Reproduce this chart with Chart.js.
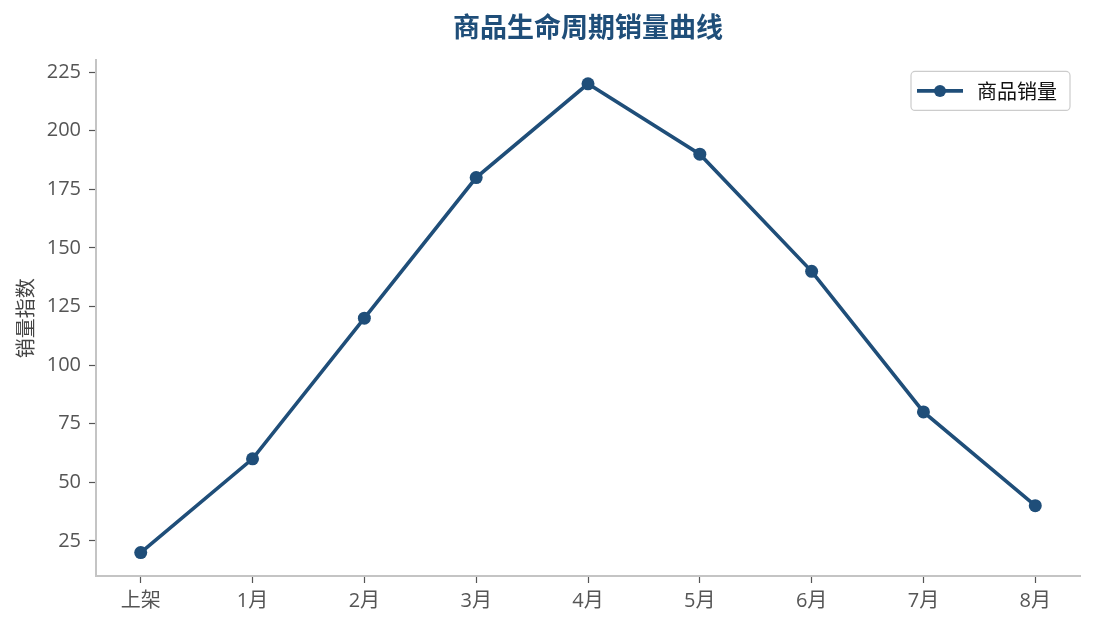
<!DOCTYPE html>
<html>
<head>
<meta charset="utf-8">
<script src="https://cdn.jsdelivr.net/npm/chart.js@4.4.0/dist/chart.umd.min.js"></script>
<style>
  html, body { margin: 0; padding: 0; background: #fff; }
  #wrap { width: 1095px; height: 629px; }
</style>
</head>
<body>
<div id="wrap"><canvas id="lifeChart"></canvas></div>
<script>
// data
const categories = ["上架", "1月", "2月", "3月", "4月", "5月", "6月", "7月", "8月"];
const salesIndex = [20, 60, 120, 180, 220, 190, 140, 80, 40];
const yTicks = [25, 50, 75, 100, 125, 150, 175, 200, 225];

const mainColor = "#1f4e79";
const fontFamily = "'Open Sans', 'Noto Sans CJK SC', sans-serif";
const cjkFamily = "'Noto Sans CJK SC', sans-serif";

// legend box drawn inside the plot, upper right
const boxLegend = {
  id: "boxLegend",
  afterDraw(chart) {
    const ctx = chart.ctx;
    const area = chart.chartArea;
    const w = 159, h = 39;
    const x = area.right - 10 - w;
    const y = area.top + 11;
    ctx.save();
    ctx.fillStyle = "rgba(255,255,255,0.8)";
    ctx.strokeStyle = "#cccccc";
    ctx.lineWidth = 1.2;
    ctx.beginPath();
    ctx.roundRect(x, y, w, h, 4);
    ctx.fill();
    ctx.stroke();
    const cy = y + h / 2;
    ctx.strokeStyle = mainColor;
    ctx.lineWidth = 3.6;
    ctx.beginPath();
    ctx.moveTo(x + 6, cy);
    ctx.lineTo(x + 52, cy);
    ctx.stroke();
    ctx.fillStyle = mainColor;
    ctx.beginPath();
    ctx.arc(x + 29, cy, 6, 0, Math.PI * 2);
    ctx.fill();
    ctx.fillStyle = "#111";
    ctx.font = "20px " + cjkFamily;
    ctx.textBaseline = "middle";
    ctx.fillText(chart.data.datasets[0].label, x + 66, cy + 1);
    ctx.restore();
  }
};

const ctx = document.getElementById("lifeChart");
new Chart(ctx, {
  type: "line",
  data: {
    datasets: [{
      label: "商品销量",
      data: salesIndex.map((v, i) => ({ x: i, y: v })),
      borderColor: mainColor,
      backgroundColor: mainColor,
      borderWidth: 3.6,
      pointRadius: 6.5,
      pointHoverRadius: 6.5,
      pointBackgroundColor: mainColor,
      pointBorderWidth: 0,
      tension: 0
    }]
  },
  options: {
    responsive: true,
    maintainAspectRatio: false,
    animation: false,
    layout: { padding: { left: 10, right: 15, top: 0, bottom: 0 } },
    plugins: {
      legend: { display: false },
      tooltip: { enabled: false },
      title: {
        display: true,
        fullSize: false,
        text: "商品生命周期销量曲线",
        color: mainColor,
        font: { family: cjkFamily, size: 27, weight: "bold" },
        padding: { top: 11, bottom: 17 }
      }
    },
    scales: {
      x: {
        type: "linear",
        min: -0.4,
        max: 8.4,
        afterBuildTicks: (scale) => {
          scale.ticks = categories.map((c, i) => ({ value: i }));
        },
        afterFit: (scale) => { scale.height = 53; },
        ticks: {
          callback: (v) => categories[v],
          color: "#555",
          font: { family: fontFamily, size: 20 },
          padding: 6,
          maxRotation: 0
        },
        grid: { drawOnChartArea: false, drawTicks: true, tickLength: 7, color: "#555", tickWidth: 1.2 },
        border: { color: "#c4c4c4", width: 2 }
      },
      y: {
        min: 10,
        max: 230,
        afterBuildTicks: (scale) => {
          scale.ticks = yTicks.map(v => ({ value: v }));
        },
        afterFit: (scale) => { scale.width = 86; },
        title: {
          display: true,
          text: "销量指数",
          color: "#444",
          font: { family: cjkFamily, size: 20 },
          padding: { top: 3, bottom: 0 }
        },
        ticks: {
          color: "#555",
          font: { family: fontFamily, size: 20 },
          padding: 8
        },
        grid: { drawOnChartArea: false, drawTicks: true, tickLength: 7, color: "#555", tickWidth: 1.2 },
        border: { color: "#c4c4c4", width: 2 }
      }
    }
  },
  plugins: [boxLegend]
});
</script>
</body>
</html>
